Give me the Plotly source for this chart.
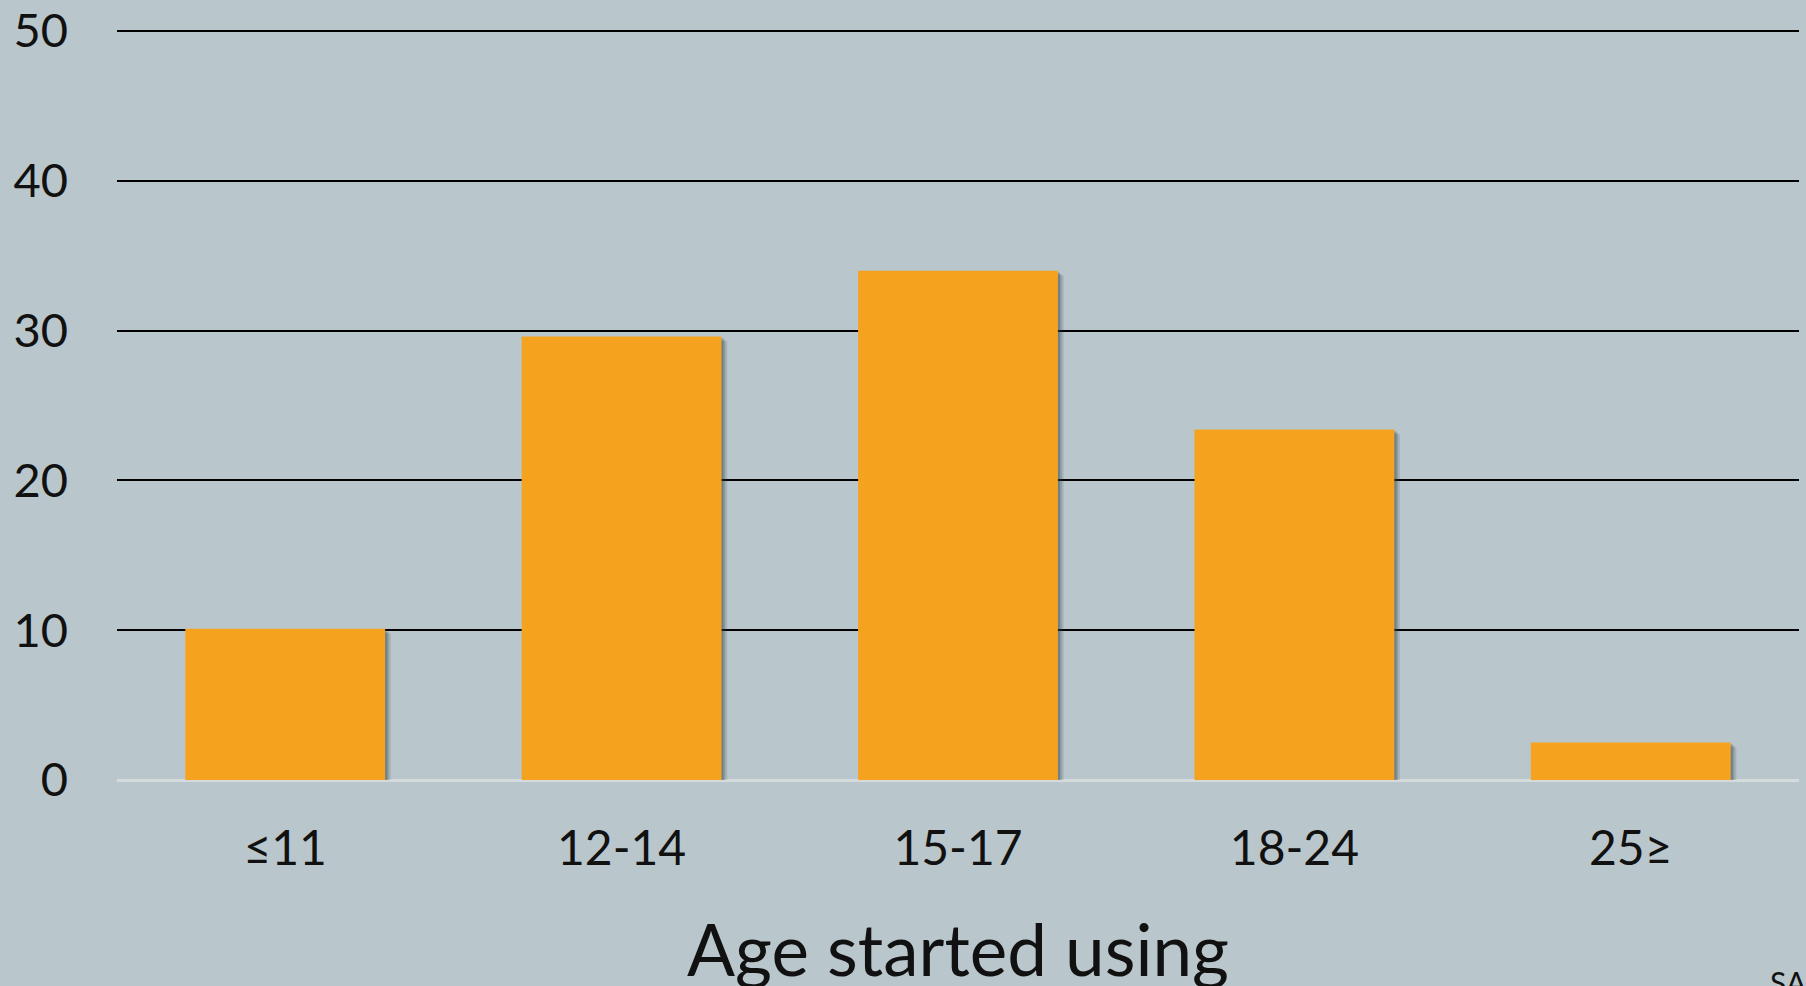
import plotly.graph_objects as go

# Age at first use (percent of respondents)
age_groups = ["≤11", "12-14", "15-17", "18-24", "25≥"]
percent = [10.1, 29.6, 34.0, 23.4, 2.5]
y_ticks = [0, 10, 20, 30, 40, 50]
x_title = "Age started using"

BG = "#b9c6cb"
BAR = "#f5a31e"
FONT = "Lato, 'Open Sans', sans-serif"

bar_w = 0.594
plot_h = 751  # plot-area height in px, used to place text below the axis

fig = go.Figure()

# soft drop shadow built from a few translucent layers
for dx, dy, alpha in [(0.006, 0.12, 0.28), (0.011, 0.22, 0.22), (0.017, 0.32, 0.15)]:
    fig.add_trace(go.Bar(
        x=age_groups, y=percent, base=-dy,
        width=bar_w, offset=-bar_w / 2 + dx,
        marker=dict(color=f"rgba(50,65,72,{alpha})", line=dict(width=0)),
        hoverinfo="skip", showlegend=False,
    ))

fig.add_trace(go.Bar(
    x=age_groups, y=percent,
    width=bar_w, offset=-bar_w / 2,
    marker=dict(color=BAR, line=dict(width=0)),
    showlegend=False,
))

fig.update_layout(
    width=1806, height=986,
    margin=dict(l=117, r=7, t=29, b=206),
    paper_bgcolor=BG, plot_bgcolor=BG,
    barmode="overlay",
    font=dict(family=FONT, color="#111111"),
    xaxis=dict(
        type="category",
        range=[-0.5, 4.5],
        automargin=False,
        showgrid=False, zeroline=False, showline=False,
        ticks="", tickfont=dict(size=48),
        ticklabelstandoff=36,
    ),
    yaxis=dict(
        range=[0, 50.13],
        tickvals=y_ticks,
        automargin=False,
        showgrid=True, gridcolor="#000000", gridwidth=2,
        zeroline=True, zerolinecolor="#d5dbdc", zerolinewidth=3,
        showline=False, ticks="",
        tickfont=dict(size=47),
        ticklabelstandoff=48,
    ),
    annotations=[
        dict(
            text=x_title, xref="paper", yref="paper",
            x=0.5, y=-168 / plot_h, xanchor="center", yanchor="middle",
            showarrow=False, font=dict(size=71, family=FONT, color="#111111"),
        ),
        dict(
            text="SA", xref="paper", yref="paper",
            x=1651 / 1682, y=-182 / plot_h, xanchor="left", yanchor="top",
            showarrow=False, font=dict(size=30, family=FONT, color="#111111"),
        ),
    ],
)

fig.write_html("out.html")
